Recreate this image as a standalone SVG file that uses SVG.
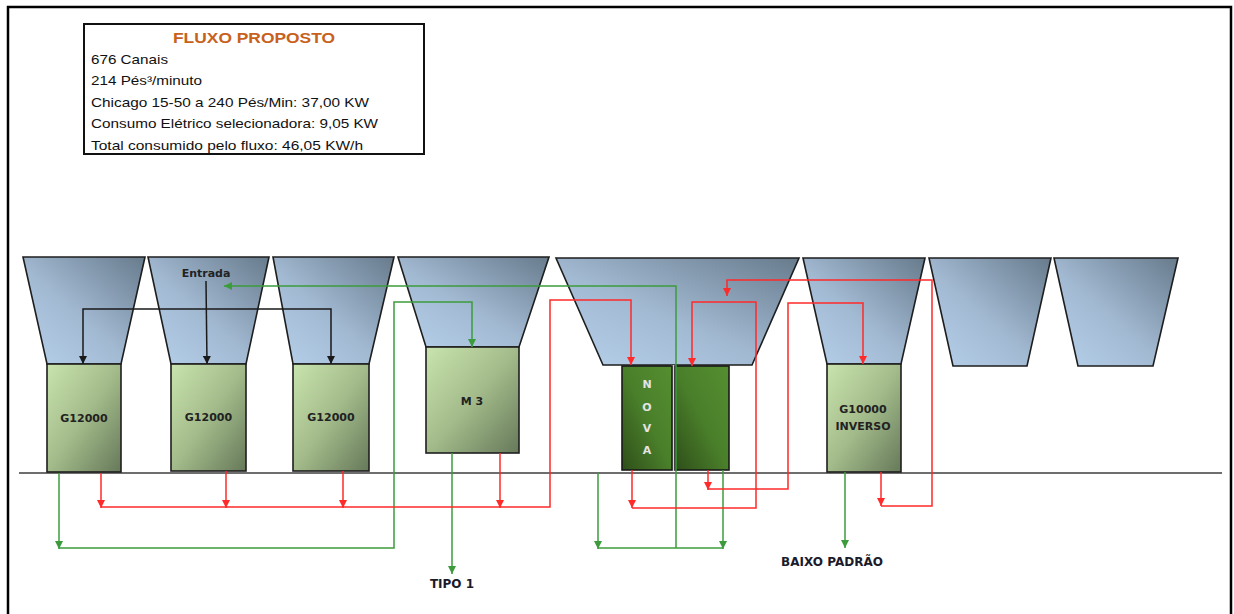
<svg xmlns="http://www.w3.org/2000/svg" width="1234" height="614" viewBox="0 0 1234 614">
<style>
.hop{fill:url(#hopG);stroke:#1e1e1e;stroke-width:1.6}
.box{fill:url(#boxG);stroke:#1e1e1e;stroke-width:1.6}
.nova{fill:url(#novaG);stroke:#1a1a1a;stroke-width:1.6}
.lbl{font-family:"DejaVu Sans",Verdana,sans-serif;font-weight:bold;font-size:11px;fill:#222;text-anchor:middle}
.nl{font-family:"DejaVu Sans",Verdana,sans-serif;font-weight:bold;font-size:11px;fill:#e4e4e4;text-anchor:middle}
.out{font-family:"DejaVu Sans",Verdana,sans-serif;font-weight:bold;font-size:12px;fill:#1b1b2b;text-anchor:middle}
.info{font-family:"Liberation Sans",Arial,sans-serif;font-size:13px;fill:#111}
.red{fill:none;stroke:#ff2a2a;stroke-width:1.5}
.grn{fill:none;stroke:#3c9c3c;stroke-width:1.5}
.blk{fill:none;stroke:#1a1a1a;stroke-width:1.5}
</style>
<defs>
<linearGradient id="hopG" x1="0" y1="1" x2="1" y2="0">
<stop offset="0" stop-color="#b7d1ec"/>
<stop offset="0.45" stop-color="#a2b9d2"/>
<stop offset="1" stop-color="#677b8c"/>
</linearGradient>
<linearGradient id="boxG" x1="0" y1="0" x2="1" y2="1">
<stop offset="0" stop-color="#c9e4ae"/>
<stop offset="0.5" stop-color="#a3bb8a"/>
<stop offset="1" stop-color="#66795a"/>
</linearGradient>
<linearGradient id="novaG" x1="1" y1="0" x2="0" y2="1">
<stop offset="0" stop-color="#558f31"/>
<stop offset="0.5" stop-color="#4a7f2a"/>
<stop offset="1" stop-color="#2e4e19"/>
</linearGradient>
<marker id="aR" viewBox="0 0 10 10" refX="10" refY="5" markerWidth="8" markerHeight="8" markerUnits="userSpaceOnUse" orient="auto"><path d="M0,0 L10,5 L0,10 z" fill="#ff2a2a"/></marker>
<marker id="aG" viewBox="0 0 10 10" refX="10" refY="5" markerWidth="8" markerHeight="8" markerUnits="userSpaceOnUse" orient="auto"><path d="M0,0 L10,5 L0,10 z" fill="#3c9c3c"/></marker>
<marker id="aB" viewBox="0 0 10 10" refX="10" refY="5" markerWidth="8" markerHeight="8" markerUnits="userSpaceOnUse" orient="auto"><path d="M0,0 L10,5 L0,10 z" fill="#1a1a1a"/></marker>
</defs>
<rect width="1234" height="614" fill="#ffffff"/>
<path d="M8,620 L8,7 L1231,7 L1231,620" fill="none" stroke="#000" stroke-width="2.5"/>

<g id="info">
<rect x="84" y="24" width="340" height="130" fill="#fff" stroke="#111" stroke-width="2"/>
<text x="254" y="43" text-anchor="middle" font-family="Liberation Sans, Arial, sans-serif" font-weight="bold" font-size="15" fill="#c8611c" textLength="162" lengthAdjust="spacingAndGlyphs">FLUXO PROPOSTO</text>
<text class="info" x="91" y="64" textLength="77" lengthAdjust="spacingAndGlyphs">676 Canais</text>
<text class="info" x="91" y="85" textLength="111" lengthAdjust="spacingAndGlyphs">214 Pés³/minuto</text>
<text class="info" x="91" y="107" textLength="278" lengthAdjust="spacingAndGlyphs">Chicago 15-50 a 240 Pés/Min: 37,00 KW</text>
<text class="info" x="91" y="128" textLength="287" lengthAdjust="spacingAndGlyphs">Consumo Elétrico selecionadora: 9,05 KW</text>
<text class="info" x="91" y="150" textLength="272" lengthAdjust="spacingAndGlyphs">Total consumido pelo fluxo: 46,05 KW/h</text>
</g>

<g id="hoppers">
<polygon class="hop" points="23,257 145,257 121,364 47,364"/>
<polygon class="hop" points="148,257 269,257 246,364 171,364"/>
<polygon class="hop" points="273,257 394,257 369,364 293,364"/>
<polygon class="hop" points="398,257 549,257 519,347 426,347"/>
<polygon class="hop" points="556,258 799,258 752,365 603,365"/>
<polygon class="hop" points="803,258 925,258 901,364 827,364"/>
<polygon class="hop" points="929,258 1051,258 1027,366 953,366"/>
<polygon class="hop" points="1054,258 1178,258 1153,366 1078,366"/>
</g>

<line x1="19" y1="473" x2="1222" y2="473" stroke="#6e6e6e" stroke-width="2"/>

<g id="entrada"><text class="lbl" x="206" y="277">Entrada</text></g>
<g id="g12000a"><rect class="box" x="47" y="364" width="74" height="108"/><text class="lbl" x="84" y="422">G12000</text></g>
<g id="g12000b"><rect class="box" x="171" y="364" width="75" height="107"/><text class="lbl" x="208.5" y="421">G12000</text></g>
<g id="g12000c"><rect class="box" x="293" y="364" width="76" height="107"/><text class="lbl" x="331" y="421">G12000</text></g>
<g id="m3"><rect class="box" x="426" y="347" width="93" height="106"/><text class="lbl" x="472" y="405">M 3</text></g>
<g id="nova">
<rect x="671" y="365" width="5" height="106" fill="#d8d8d8"/>
<rect class="nova" x="622" y="366" width="50" height="104"/>
<rect class="nova" x="675" y="366" width="54" height="104"/>
<text class="nl" x="647" y="388">N</text>
<text class="nl" x="647" y="411">O</text>
<text class="nl" x="647" y="432">V</text>
<text class="nl" x="647" y="454">A</text>
</g>
<g id="g10000"><rect class="box" x="827" y="364" width="74" height="108"/><text class="lbl" x="863" y="413">G10000</text><text class="lbl" x="863" y="430">INVERSO</text></g>

<g id="connectors">
<path class="blk" d="M206,281 L207,364" marker-end="url(#aB)"/>
<path class="blk" d="M206,309 L83,309 L83,364" marker-end="url(#aB)"/>
<path class="blk" d="M206,309 L331,309 L331,364" marker-end="url(#aB)"/>

<path class="grn" d="M59,473 L59,549" marker-end="url(#aG)"/>
<path class="grn" d="M59,548 L394,548 L394,302 L472,302 L472,347" marker-end="url(#aG)"/>
<path class="grn" d="M452,453 L452,574" marker-end="url(#aG)"/>
<path class="grn" d="M598,473 L598,549" marker-end="url(#aG)"/>
<path class="grn" d="M723,470 L723,549" marker-end="url(#aG)"/>
<path class="grn" d="M598,548 L723,548"/>
<path class="grn" d="M676,548 L676,286 L224,286" marker-end="url(#aG)"/>
<path class="grn" d="M845,472 L845,548" marker-end="url(#aG)"/>

<path class="red" d="M101,473 L101,508" marker-end="url(#aR)"/>
<path class="red" d="M226,471 L226,508" marker-end="url(#aR)"/>
<path class="red" d="M343,471 L343,508" marker-end="url(#aR)"/>
<path class="red" d="M500,453 L500,508" marker-end="url(#aR)"/>
<path class="red" d="M101,507 L550,507 L550,300 L631,300 L631,365" marker-end="url(#aR)"/>
<path class="red" d="M632,470 L632,508" marker-end="url(#aR)"/>
<path class="red" d="M632,508 L756,508 L756,302 L692,302 L692,366" marker-end="url(#aR)"/>
<path class="red" d="M708,470 L708,490" marker-end="url(#aR)"/>
<path class="red" d="M708,489 L788,489 L788,303 L863,303 L863,364" marker-end="url(#aR)"/>
<path class="red" d="M881,472 L881,506" marker-end="url(#aR)"/>
<path class="red" d="M881,506 L932,506 L932,280 L727,280 L727,296" marker-end="url(#aR)"/>
</g>

<text class="out" x="452" y="588">TIPO 1</text>
<text class="out" x="832" y="566">BAIXO PADRÃO</text>
</svg>
